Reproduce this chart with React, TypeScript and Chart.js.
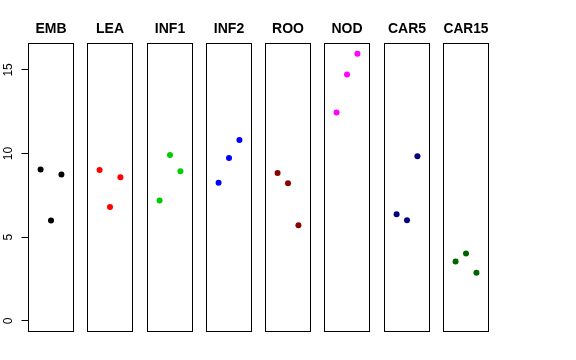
import React, { useEffect, useRef } from "react";
import { Chart, registerables } from "chart.js";

Chart.register(...registerables);

const panelNames = ["EMB", "LEA", "INF1", "INF2", "ROO", "NOD", "CAR5", "CAR15"];
const panelColors = ["#000000", "#FF0000", "#00CD00", "#0000FF", "#8B0000", "#FF00FF", "#000080", "#006400"];
const xPositions = [1, 2, 3];
const embValues = [9.04, 5.99, 8.74];
const leaValues = [9.02, 6.8, 8.58];
const inf1Values = [7.19, 9.92, 8.94];
const inf2Values = [8.26, 9.74, 10.81];
const rooValues = [8.84, 8.22, 5.72];
const nodValues = [12.46, 14.73, 15.96];
const car5Values = [6.37, 6.01, 9.84];
const car15Values = [3.55, 4.03, 2.87];
const yTicks = [0, 5, 10, 15];

const panelValues = [embValues, leaValues, inf1Values, inf2Values, rooValues, nodValues, car5Values, car15Values];

const W = 576;
const H = 360;
const FONT = "'Liberation Sans', Arial, Helvetica, sans-serif";

const boxPlugin = {
  id: "panelBox",
  afterDraw(chart: any) {
    const { ctx, chartArea } = chart;
    ctx.save();
    ctx.strokeStyle = "#000000";
    ctx.lineWidth = 1;
    ctx.strokeRect(chartArea.left, chartArea.top, chartArea.right - chartArea.left, chartArea.bottom - chartArea.top);
    ctx.restore();
  },
};

function Panel({ index }: { index: number }) {
  const ref = useRef<HTMLCanvasElement | null>(null);
  useEffect(() => {
    const left = 28.5 + Math.round(index * 59.25);
    const right = left + 45;
    const first = index === 0;
    const yScale: any = {
      type: "linear",
      display: first,
      position: "left",
      min: -0.64,
      max: 16.58,
      afterBuildTicks: (scale: any) => {
        scale.ticks = yTicks.map((v) => ({ value: v }));
      },
      grid: {
        drawOnChartArea: false,
        drawTicks: true,
        tickLength: 7,
        color: "#000000",
        lineWidth: 1,
      },
      border: { display: true, color: "#000000", width: 1 },
      ticks: {
        minRotation: 90,
        maxRotation: 90,
        crossAlign: "center",
        padding: 6,
        color: "#000000",
        font: { family: FONT, size: 12 },
        callback: (v: any) => String(v),
      },
    };
    if (first) {
      yScale.afterFit = (scale: any) => {
        scale.width = left;
      };
    }
    const chart = new Chart(ref.current as HTMLCanvasElement, {
      type: "scatter",
      data: {
        datasets: [
          {
            data: panelValues[index].map((v, j) => ({ x: xPositions[j], y: v })),
            backgroundColor: panelColors[index],
            borderColor: panelColors[index],
            borderWidth: 0,
            pointRadius: 3,
            showLine: false,
          },
        ],
      },
      options: {
        responsive: false,
        animation: false,
        devicePixelRatio: 1,
        layout: {
          padding: { left: first ? 0 : left, right: W - right, top: 0, bottom: 28.5 },
        },
        plugins: {
          legend: { display: false },
          tooltip: { enabled: false },
          title: {
            display: true,
            text: panelNames[index],
            fullSize: false,
            color: "#000000",
            font: { family: FONT, size: 14, weight: "bold", lineHeight: 1.2 },
            padding: { top: 20.8, bottom: 5.9 },
          },
        },
        scales: {
          x: { type: "linear", display: false, min: -0.16, max: 4.16 },
          y: yScale,
        },
      },
      plugins: [boxPlugin],
    } as any);
    return () => chart.destroy();
  }, [index]);
  return (
    <canvas
      ref={ref}
      width={W}
      height={H}
      style={{ position: "absolute", left: 0, top: 0, width: W, height: H }}
    />
  );
}

export default function App() {
  return (
    <div style={{ position: "fixed", left: 0, top: 0, width: W, height: H, background: "#ffffff" }}>
      {panelNames.map((_, i) => (
        <Panel key={i} index={i} />
      ))}
    </div>
  );
}
